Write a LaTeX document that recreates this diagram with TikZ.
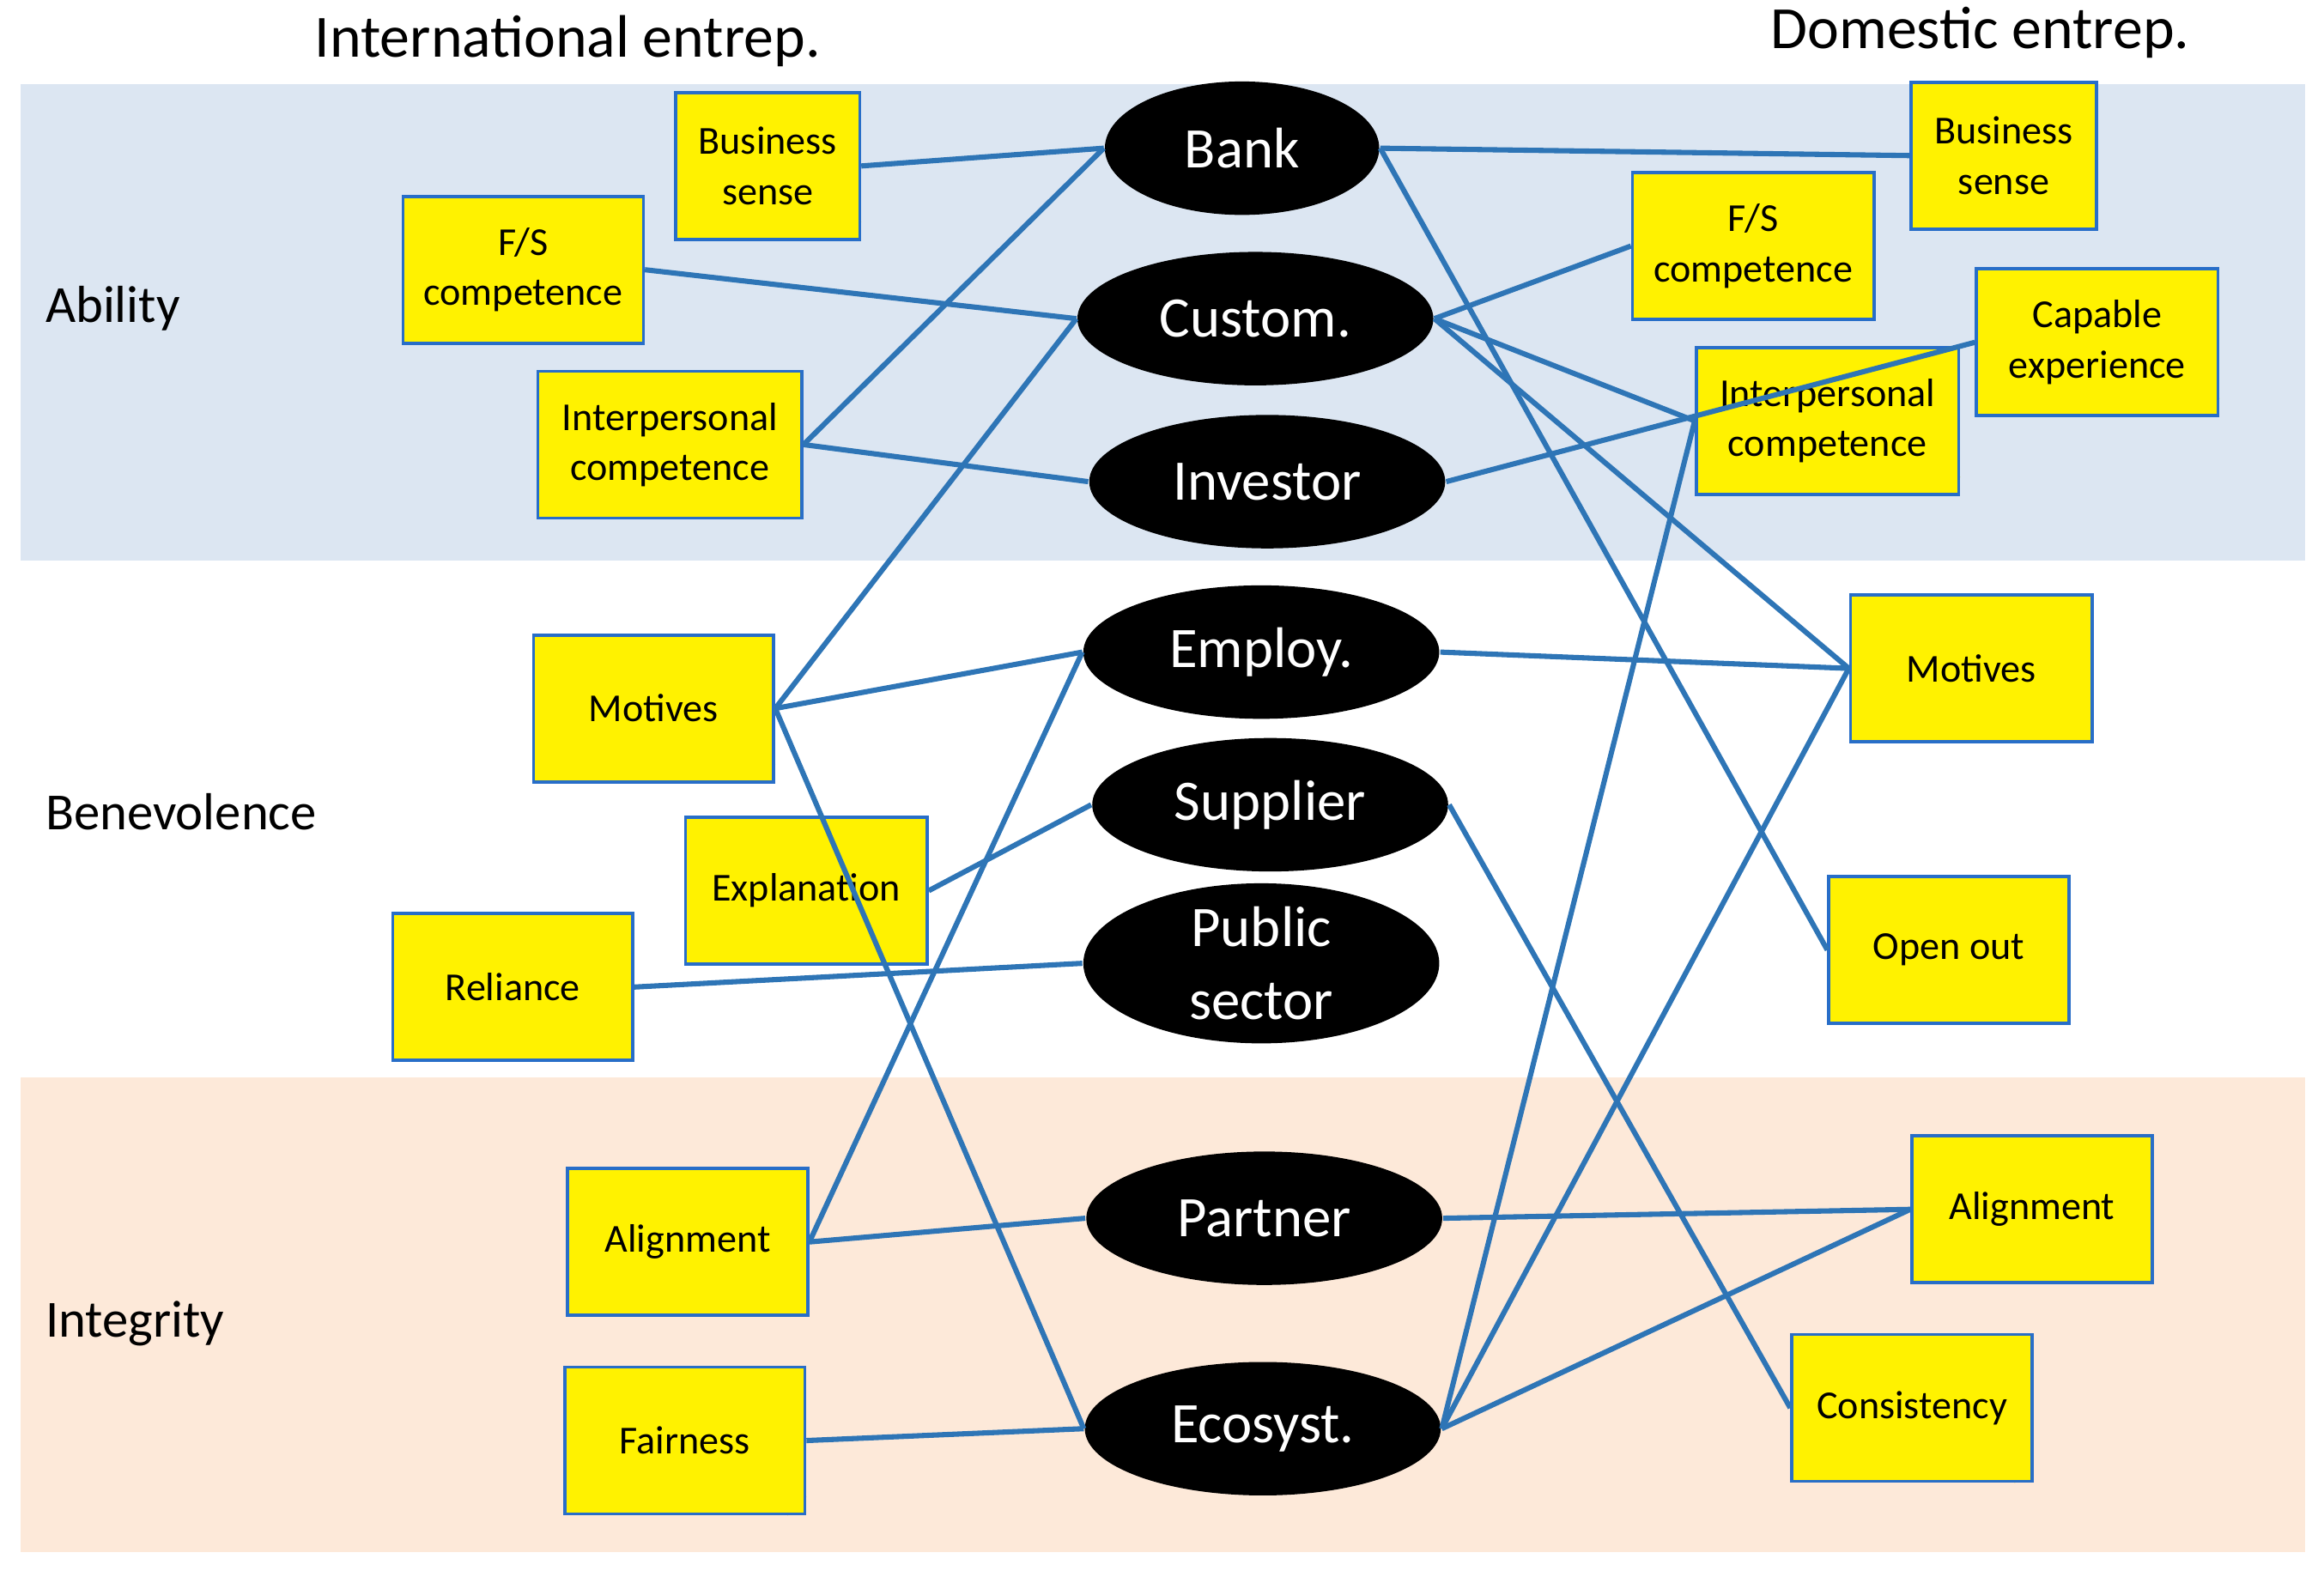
\documentclass[tikz,border=0pt]{standalone}
\usepackage{fontspec}
\setmainfont{Carlito}
\usetikzlibrary{shapes.geometric}
\definecolor{bandblue}{RGB}{220,230,242}
\definecolor{bandpink}{RGB}{253,233,217}
\definecolor{lineblue}{RGB}{46,117,182}
\definecolor{notebd}{RGB}{40,110,200}
\definecolor{fold}{RGB}{215,215,60}
\begin{document}
\begin{tikzpicture}[x=0.01cm,y=-0.01cm,
 note/.style={draw=notebd,fill=yellow,line width=0.6pt,align=center,font=\fontsize{7.6}{9.6}\selectfont,inner sep=2pt,
   append after command={\pgfextra{\fill[fold] ([xshift=-0.13cm]\tikzlastnode.south east) -- ([yshift=0.13cm]\tikzlastnode.south east) -- ([xshift=-0.03cm,yshift=0.03cm]\tikzlastnode.south east) -- cycle;}}},
 ell/.style={ellipse,fill=black,text=white,minimum height=0.9cm,font=\fontsize{11}{12}\selectfont,inner sep=0pt,align=center},
 conn/.style={draw=lineblue,line width=1pt},
 lab/.style={font=\fontsize{10}{12}\selectfont,anchor=west,inner sep=0pt}]
\useasboundingbox (0,0) rectangle (1568,1064);
\fill[bandblue] (14,57) rectangle (1555,378);
\fill[bandpink] (14,727) rectangle (1555,1047);
\node[font=\fontsize{11.5}{14}\selectfont] at (383,28) {International entrep.};
\node[font=\fontsize{11.5}{14}\selectfont] at (1336,22) {Domestic entrep.};
\node[lab] at (30,208) {Ability};
\node[lab] at (30,548) {Benevolence};
\node[lab] at (30,893) {Integrity};
% ellipses
\node[ell,minimum width=1.85cm] (bank) at (838,100) {Bank};
\node[ell,minimum width=2.4cm] (cust) at (847,215) {Custom.};
\node[ell,minimum width=2.4cm] (inv) at (855,325) {Investor};
\node[ell,minimum width=2.4cm] (emp) at (851,440) {Employ.};
\node[ell,minimum width=2.4cm] (sup) at (857,543) {Supplier};
\node[ell,minimum width=2.4cm,minimum height=0.97cm,font=\fontsize{11}{14}\selectfont] (pub) at (851,650) {Public\\sector};
\node[ell,minimum width=2.4cm] (par) at (853,822) {Partner};
\node[ell,minimum width=2.4cm] (eco) at (852,964) {Ecosyst.};
% notes
\tikzset{n/.style={note,minimum width=#1,minimum height=0.99cm}}
\node[n=1.24cm] (bs1) at (518,112) {Business\\sense};
\node[n=1.62cm] (fs1) at (353,182) {F/S\\competence};
\node[n=1.78cm] (ic1) at (452,300) {Interpersonal\\competence};
\node[n=1.62cm] (mo1) at (441,478) {Motives};
\node[n=1.63cm] (ex) at (544,601) {Explanation};
\node[n=1.62cm] (rel) at (346,666) {Reliance};
\node[n=1.62cm] (al1) at (464,838) {Alignment};
\node[n=1.62cm] (fa) at (462,972) {Fairness};
\node[n=1.25cm] (bs2) at (1352,105) {Business\\sense};
\node[n=1.63cm] (fs2) at (1183,166) {F/S\\competence};
\node[n=1.77cm] (ic2) at (1233,284) {Interpersonal\\competence};
\node[n=1.63cm] (cap) at (1415,231) {Capable\\experience};
\node[n=1.63cm] (mo2) at (1330,451) {Motives};
\node[n=1.62cm] (op) at (1315,641) {Open out};
\node[n=1.62cm] (al2) at (1371,816) {Alignment};
\node[n=1.62cm] (con) at (1290,950) {Consistency};
% connectors
\draw[conn] (bs1.east) -- (bank.west);
\draw[conn] (fs1.east) -- (cust.west);
\draw[conn] (ic1.east) -- (bank.west);
\draw[conn] (ic1.east) -- (inv.west);
\draw[conn] (mo1.east) -- (cust.west);
\draw[conn] (mo1.east) -- (emp.west);
\draw[conn] (mo1.east) -- (eco.west);
\draw[conn] (ex.east) -- (sup.west);
\draw[conn] (rel.east) -- (pub.west);
\draw[conn] (al1.east) -- (emp.west);
\draw[conn] (al1.east) -- (par.west);
\draw[conn] (fa.east) -- (eco.west);
\draw[conn] (bank.east) -- (bs2.west);
\draw[conn] (bank.east) -- (op.west);
\draw[conn] (cust.east) -- (fs2.west);
\draw[conn] (cust.east) -- (ic2.west);
\draw[conn] (cust.east) -- (mo2.west);
\draw[conn] (inv.east) -- (cap.west);
\draw[conn] (emp.east) -- (mo2.west);
\draw[conn] (sup.east) -- (con.west);
\draw[conn] (par.east) -- (al2.west);
\draw[conn] (eco.east) -- (al2.west);
\draw[conn] (eco.east) -- (ic2.west);
\draw[conn] (eco.east) -- (mo2.west);
\end{tikzpicture}
\end{document}
